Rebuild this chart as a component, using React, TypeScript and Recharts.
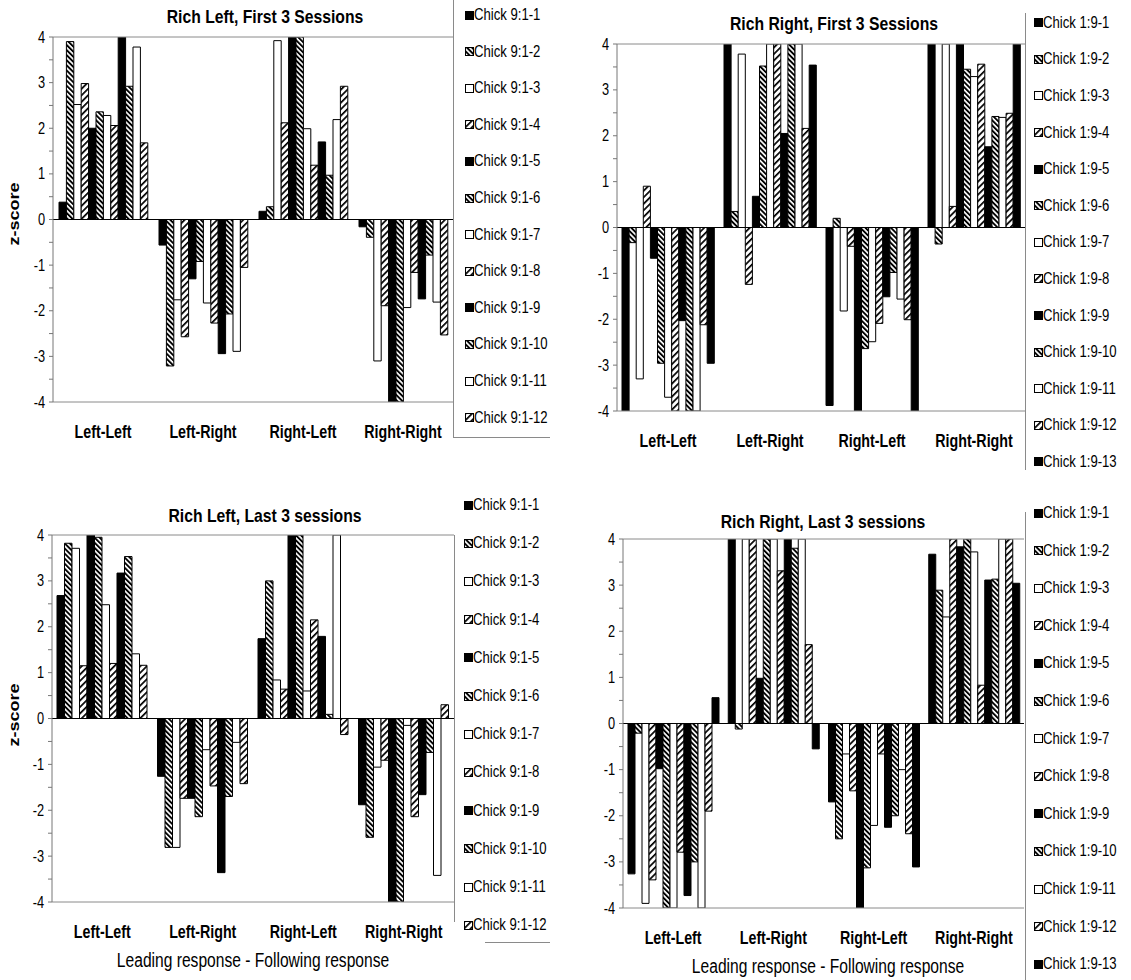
import { BarChart, Bar, XAxis, YAxis, ReferenceLine } from "recharts"

const FONT = "'Liberation Sans', Arial, Helvetica, sans-serif"

const categories = ["Left-Left", "Left-Right", "Right-Left", "Right-Right"]
const zTicks = [-4, -3.5, -3, -2.5, -2, -1.5, -1, -0.5, 0, 0.5, 1, 1.5, 2, 2.5, 3, 3.5, 4]

const chicks91 = [
  "Chick 9:1-1", "Chick 9:1-2", "Chick 9:1-3", "Chick 9:1-4", "Chick 9:1-5", "Chick 9:1-6",
  "Chick 9:1-7", "Chick 9:1-8", "Chick 9:1-9", "Chick 9:1-10", "Chick 9:1-11", "Chick 9:1-12",
]
const chicks19 = [
  "Chick 1:9-1", "Chick 1:9-2", "Chick 1:9-3", "Chick 1:9-4", "Chick 1:9-5", "Chick 1:9-6",
  "Chick 1:9-7", "Chick 1:9-8", "Chick 1:9-9", "Chick 1:9-10", "Chick 1:9-11", "Chick 1:9-12",
  "Chick 1:9-13",
]

// Rich Left, First 3 Sessions (one value per chick)
const leftFirstLL = [0.38, 3.9, 2.52, 2.98, 2.0, 2.36, 2.28, 2.06, 4.0, 2.92, 3.78, 1.68]
const leftFirstLR = [-0.56, -3.21, -1.76, -2.57, -1.3, -0.92, -1.83, -2.27, -2.94, -2.07, -2.89, -1.05]
const leftFirstRL = [0.18, 0.28, 3.92, 2.12, 4.0, 4.0, 1.99, 1.19, 1.7, 0.97, 2.19, 2.92]
const leftFirstRR = [-0.16, -0.39, -3.1, -1.89, -4.0, -4.0, -1.93, -1.16, -1.74, -0.78, -1.81, -2.53]

// Rich Right, First 3 Sessions
const rightFirstLL = [-4.0, -0.33, -3.3, 0.9, -0.67, -2.96, -3.7, -4.0, -2.03, -4.0, -4.0, -2.12, -2.96]
const rightFirstLR = [4.0, 0.35, 3.78, -1.24, 0.68, 3.52, 4.0, 4.0, 2.05, 4.0, 4.0, 2.16, 3.54]
const rightFirstRL = [-3.88, 0.2, -1.82, -0.41, -4.0, -2.64, -2.49, -2.09, -1.51, -0.98, -1.56, -2.01, -4.0]
const rightFirstRR = [4.0, -0.36, 4.0, 0.46, 4.0, 3.45, 3.29, 3.56, 1.76, 2.42, 2.4, 2.49, 4.0]

// Rich Left, Last 3 sessions
const leftLastLL = [2.68, 3.82, 3.71, 1.15, 4.0, 3.95, 2.48, 1.2, 3.17, 3.53, 1.41, 1.16]
const leftLastLR = [-1.26, -2.81, -2.81, -1.74, -1.74, -2.14, -0.68, -1.47, -3.36, -1.7, -0.52, -1.42]
const leftLastRL = [1.74, 3.0, 0.84, 0.64, 4.0, 4.0, 0.6, 2.15, 1.79, 0.09, 4.0, -0.35]
const leftLastRR = [-1.88, -2.59, -1.06, -0.91, -4.0, -4.0, -0.15, -2.14, -1.66, -0.74, -3.42, 0.3]

// Rich Right, Last 3 sessions
const rightLastLL = [-3.26, -0.21, -3.9, -3.39, -0.98, -4.0, -4.0, -2.79, -3.73, -3.0, -4.0, -1.9, 0.56]
const rightLastLR = [4.0, -0.12, 4.0, 4.0, 0.98, 4.0, 4.0, 3.31, 4.0, 3.8, 4.0, 1.71, -0.55]
const rightLastRL = [-1.7, -2.5, -0.66, -1.46, -4.0, -3.13, -2.21, -0.66, -2.25, -2.0, -1.0, -2.39, -3.11]
const rightLastRR = [3.67, 2.89, 2.31, 4.0, 3.83, 4.0, 3.72, 0.83, 3.11, 3.13, 4.0, 4.0, 3.04]

// black, dense "\" hatch, white, "/" hatch - repeated
const fills = ["#000", "url(#hatchBack)", "#fff", "url(#hatchFwd)"]

function buildRows(cols: number[][], chicks: string[]) {
  return categories.map((cat, i) => {
    const row: Record<string, any> = { cat }
    chicks.forEach((_, j) => {
      row["c" + j] = cols[i][j]
    })
    return row
  })
}

function CatTick(props: any) {
  const { x, y, payload } = props
  return (
    <g transform={`translate(${x},${y})`}>
      <text transform="scale(0.75,1)" textAnchor="middle" dy={36.5} fontSize={19} fontWeight="bold" fontFamily={FONT} fill="#000">
        {payload.value}
      </text>
    </g>
  )
}

function ZTick(props: any) {
  const { x, y, payload } = props
  if (!Number.isInteger(payload.value)) return <g />
  return (
    <g transform={`translate(${x},${y})`}>
      <text transform="scale(0.8,1)" textAnchor="end" dy={5.5} fontSize={16} fontFamily={FONT} fill="#000">
        {payload.value}
      </text>
    </g>
  )
}

function Swatch({ fill }: { fill: string }) {
  return (
    <svg width={9} height={9} style={{ position: "absolute", left: 0, top: -4.5 }}>
      <rect x={0.5} y={0.5} width={8} height={8} fill={fill} stroke="#000" strokeWidth={1} />
    </svg>
  )
}

function Legend({ chicks, x, y0, step }: { chicks: string[]; x: number; y0: number; step: number }) {
  return (
    <>
      {chicks.map((name, i) => (
        <div key={name} style={{ position: "absolute", left: x, top: y0 + i * step, height: 0 }}>
          <Swatch fill={fills[i % 4]} />
          <div
            style={{
              position: "absolute",
              left: 9,
              top: -9,
              fontSize: 16,
              lineHeight: "18px",
              whiteSpace: "nowrap",
              transform: "scaleX(0.82)",
              transformOrigin: "left center",
              color: "#000",
            }}
          >
            {name}
          </div>
        </div>
      ))}
    </>
  )
}

function CenterText({ x, y, text, size, bold, sx, rotate }: any) {
  return (
    <div
      style={{
        position: "absolute",
        left: x,
        top: y,
        fontSize: size,
        lineHeight: `${size}px`,
        fontWeight: bold ? "bold" : "normal",
        whiteSpace: "nowrap",
        transform: rotate ? `translate(-50%,-50%) rotate(-90deg) scaleY(${sx})` : `translate(-50%,-50%) scaleX(${sx})`,
        color: "#000",
      }}
    >
      {text}
    </div>
  )
}

function Line({ x, y, w, h }: { x: number; y: number; w: number; h: number }) {
  return <div style={{ position: "absolute", left: x, top: y, width: w, height: h, background: "#8a8a8a" }} />
}

type PanelProps = {
  rows: Record<string, any>[]
  chicks: string[]
  box: { left: number; top: number; w: number; h: number }
  margin: { top: number; right: number; bottom: number; left: number }
  yWidth: number
  barSize: number
}

function Panel({ rows, chicks, box, margin, yWidth, barSize }: PanelProps) {
  return (
    <div style={{ position: "absolute", left: box.left, top: box.top }}>
      <BarChart width={box.w} height={box.h} data={rows} margin={margin} barGap={0} barSize={barSize}>
        <XAxis
          dataKey="cat"
          height={40}
          tickLine={false}
          tickSize={0}
          tickMargin={0}
          axisLine={{ stroke: "#8a8a8a" }}
          tick={<CatTick />}
          interval={0}
        />
        <YAxis
          width={yWidth}
          domain={[-4, 4]}
          ticks={zTicks}
          interval={0}
          allowDataOverflow
          tickSize={4}
          tickMargin={4}
          axisLine={{ stroke: "#777" }}
          tickLine={{ stroke: "#777" }}
          tick={<ZTick />}
        />
        <ReferenceLine y={4} stroke="#8a8a8a" />
        {chicks.map((name, j) => (
          <Bar
            key={name}
            dataKey={"c" + j}
            name={name}
            fill={fills[j % 4]}
            stroke="#000"
            strokeWidth={1}
            isAnimationActive={false}
          />
        ))}
        <ReferenceLine y={0} stroke="#000" />
      </BarChart>
    </div>
  )
}

export default function App() {
  const rowsLF = buildRows([leftFirstLL, leftFirstLR, leftFirstRL, leftFirstRR], chicks91)
  const rowsRF = buildRows([rightFirstLL, rightFirstLR, rightFirstRL, rightFirstRR], chicks19)
  const rowsLL = buildRows([leftLastLL, leftLastLR, leftLastRL, leftLastRR], chicks91)
  const rowsRL = buildRows([rightLastLL, rightLastLR, rightLastRL, rightLastRR], chicks19)

  return (
    <div
      style={{
        position: "absolute",
        left: 0,
        top: 0,
        width: 1131,
        height: 980,
        background: "#fff",
        fontFamily: FONT,
        overflow: "hidden",
      }}
    >
      <svg width={1} height={1} style={{ position: "absolute", left: 0, top: 0 }}>
        <defs>
          <pattern id="hatchBack" patternUnits="userSpaceOnUse" width={3.6} height={3.6} patternTransform="rotate(-45)">
            <rect width={3.6} height={3.6} fill="#fff" />
            <rect width={1.9} height={3.6} fill="#000" />
          </pattern>
          <pattern id="hatchFwd" patternUnits="userSpaceOnUse" width={4.6} height={4.6} patternTransform="rotate(45)">
            <rect width={4.6} height={4.6} fill="#fff" />
            <rect width={1.7} height={4.6} fill="#000" />
          </pattern>
        </defs>
      </svg>

      {/* top left */}
      <Panel
        rows={rowsLF}
        chicks={chicks91}
        box={{ left: 0, top: 0, w: 460, h: 460 }}
        margin={{ top: 37, right: 7, bottom: 18, left: 0 }}
        yWidth={53}
        barSize={7.4}
      />
      <CenterText x={265} y={17} text="Rich Left, First 3 Sessions" size={18.5} bold sx={0.85} />
      <CenterText x={14} y={214} text="z-score" size={18} bold sx={0.8} rotate />
      <Line x={453} y={0} w={1} h={437} />
      <Line x={453} y={437} w={97} h={1} />
      <Legend chicks={chicks91} x={465} y0={15} step={36.6} />

      {/* top right */}
      <Panel
        rows={rowsRF}
        chicks={chicks19}
        box={{ left: 560, top: 0, w: 470, h: 470 }}
        margin={{ top: 44, right: 5, bottom: 19, left: 0 }}
        yWidth={57}
        barSize={7.1}
      />
      <CenterText x={834} y={24} text="Rich Right, First 3 Sessions" size={18.5} bold sx={0.85} />
      <Line x={1025} y={13} w={1} h={457} />
      <Legend chicks={chicks19} x={1034} y0={22.7} step={36.6} />

      {/* bottom left */}
      <Panel
        rows={rowsLL}
        chicks={chicks91}
        box={{ left: 0, top: 480, w: 460, h: 470 }}
        margin={{ top: 55, right: 6, bottom: 8, left: 0 }}
        yWidth={52}
        barSize={7.5}
      />
      <CenterText x={265} y={516} text="Rich Left, Last 3 sessions" size={18.5} bold sx={0.85} />
      <CenterText x={14} y={715} text="z-score" size={18} bold sx={0.8} rotate />
      <CenterText x={253} y={961} text="Leading response - Following response" size={19.5} sx={0.8} />
      <Line x={454} y={535} w={1} h={387} />
      <Line x={485} y={942} w={65} h={1} />
      <Legend chicks={chicks91} x={464} y0={505} step={38.2} />

      {/* bottom right */}
      <Panel
        rows={rowsRL}
        chicks={chicks19}
        box={{ left: 560, top: 480, w: 470, h: 500 }}
        margin={{ top: 59, right: 6, bottom: 32, left: 0 }}
        yWidth={63}
        barSize={7.0}
      />
      <CenterText x={823} y={522} text="Rich Right, Last 3 sessions" size={18.5} bold sx={0.85} />
      <CenterText x={828} y={967} text="Leading response - Following response" size={19.5} sx={0.8} />
      <Line x={1025} y={512} w={1} h={468} />
      <Legend chicks={chicks19} x={1034} y0={513} step={37.6} />
    </div>
  )
}
